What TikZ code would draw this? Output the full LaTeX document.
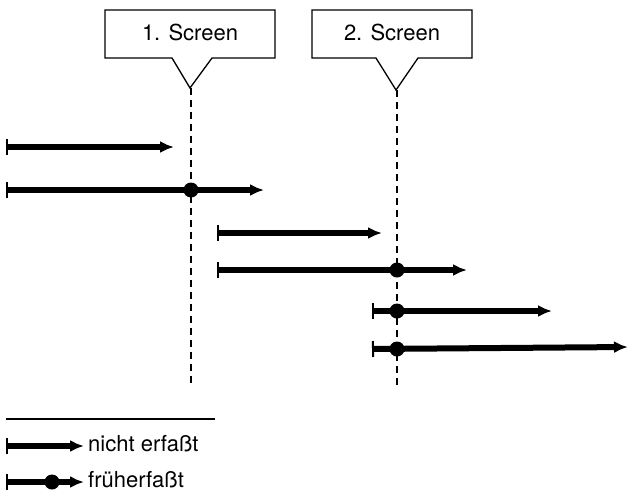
\documentclass[tikz,border=0pt]{standalone}
\usepackage{fontspec}
\setmainfont{TeX Gyre Heros}
\usetikzlibrary{arrows.meta}
\begin{document}
\begin{tikzpicture}[x=1pt,y=-1pt,
  timeline/.style={line width=6pt,
    arrows={Bar[width=16pt,line width=2pt,sep=0pt]-Latex[length=14pt,width=12pt]},
    shorten <=0pt},
  hitdot/.style={circle,fill=black,inner sep=0pt,minimum size=15pt},
  screenline/.style={line width=1.3pt,dash pattern=on 7pt off 5pt},
  callout/.style={line width=1.3pt,line join=miter},
  lbl/.style={font=\fontsize{22}{24}\selectfont,inner sep=0pt}]
\useasboundingbox (0,0) rectangle (628,498);

% callouts
\draw[callout,fill=white] (105,10) -- (275,10) -- (275,58) -- (212,58) -- (190,88)
   -- (172,58) -- (105,58) -- cycle;
\node[lbl] (s1) at (190,32) {1. Screen};
\draw[callout,fill=white] (312,10) -- (472,10) -- (472,58) -- (418,58) -- (396,90)
   -- (376,58) -- (312,58) -- cycle;
\node[lbl] (s2) at (392,32) {2. Screen};

\coordinate (t1) at (191,88);
\coordinate (b1) at (191,386);
\coordinate (t2) at (397,90);
\coordinate (b2) at (397,386);
\draw[screenline] (t1) -- (b1);
\draw[screenline] (t2) -- (b2);

% timelines
\coordinate (a1s) at (6,147);  \coordinate (a1e) at (174,147);
\coordinate (a2s) at (6,190);  \coordinate (a2e) at (264,190);
\coordinate (a3s) at (217,233); \coordinate (a3e) at (382,233);
\coordinate (a4s) at (217,270); \coordinate (a4e) at (467,270);
\coordinate (a5s) at (372,311); \coordinate (a5e) at (552,311);
\coordinate (a6s) at (372,349); \coordinate (a6e) at (628,347);
\draw[timeline] (a1s) -- (a1e);
\draw[timeline] (a2s) -- (a2e);
\draw[timeline] (a3s) -- (a3e);
\draw[timeline] (a4s) -- (a4e);
\draw[timeline] (a5s) -- (a5e);
\draw[timeline] (a6s) -- (a6e);
\node[hitdot] (d2) at (191,190) {};
\node[hitdot] (d4) at (397,270) {};
\node[hitdot] (d5) at (397,311) {};
\node[hitdot] (d6) at (397,349) {};

% legend
\coordinate (ls) at (6,419); \coordinate (le) at (215,419);
\draw[line width=1.2pt] (ls) -- (le);
\coordinate (l1s) at (6,446); \coordinate (l1e) at (84,446);
\draw[timeline] (l1s) -- (l1e);
\node[lbl,anchor=west] (n1) at (88,444) {nicht erfaßt};
\coordinate (l2s) at (6,482); \coordinate (l2e) at (84,482);
\draw[timeline] (l2s) -- (l2e);
\node[hitdot] (ld) at (52,482) {};
\node[lbl,anchor=west] (n2) at (88,480) {früherfaßt};
\end{tikzpicture}
\end{document}
